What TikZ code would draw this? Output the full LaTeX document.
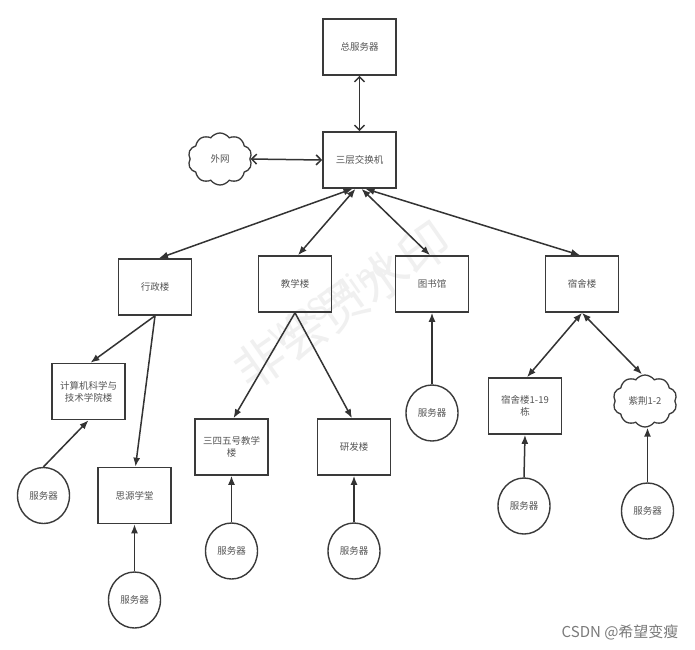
\documentclass[tikz,border=0pt]{standalone}
\usepackage{fontspec}
\newfontfamily\cjk{Noto Sans CJK SC}
\usetikzlibrary{shapes.geometric,shapes.symbols,arrows.meta}
\definecolor{boxc}{HTML}{3A3A3A}
\definecolor{linec}{HTML}{333333}
\definecolor{txt}{HTML}{555555}
\definecolor{wm}{HTML}{F0F0F0}
\definecolor{csdn}{HTML}{7A7A7A}
\begin{document}
\begin{tikzpicture}[x=1pt,y=-1pt,
  font=\cjk\fontsize{9.5}{12}\selectfont,
  box/.style={draw=boxc, line width=1.6pt, minimum width=73pt, minimum height=56pt, inner sep=0pt, text=txt, align=center},
  srv/.style={ellipse, draw=boxc, line width=1.4pt, minimum width=52pt, minimum height=56pt, inner sep=0pt, text=txt},
  cld/.style={cloud, cloud puffs=10, cloud puff arc=110, cloud ignores aspect, draw=boxc, line width=1.3pt, minimum width=64pt, minimum height=52pt, inner sep=0pt, text=txt},
  link/.style={draw=linec, line width=1.5pt},
  tipf/.style={-{Latex[length=9pt,width=7pt]}},
  tipff/.style={{Latex[length=9pt,width=7pt]}-{Latex[length=9pt,width=7pt]}},
  tipo/.style={{Straight Barb[length=5pt,width=10pt]}-{Straight Barb[length=5pt,width=10pt]}},
  wmark/.style={text=wm, rotate=35, inner sep=0pt}
]
\useasboundingbox[fill=white] (0,0) rectangle (695,649);

% watermark
\node[wmark, font=\cjk\fontsize{50}{50}\selectfont] (wmb) at (342,305) {非会员水印};
\node[wmark, font=\cjk\fontsize{30}{30}\selectfont] (wma) at (330,300) {WPS Mind};

% nodes
\node[box] (zfw) at (359.5,47) {总服务器};
\node[box] (sw) at (359.5,160) {三层交换机};
\node[cld] (ww) at (220,159) {外网};

\node[box] (xz) at (155,287) {行政楼};
\node[box] (jx) at (295,284) {教学楼};
\node[box] (ts) at (432,284) {图书馆};
\node[box] (ss) at (582,284) {宿舍楼};

\node[box] (jsj) at (88.5,391.5) {计算机科学与\\技术学院楼};
\node[box] (sy) at (134.5,495.5) {思源学堂};
\node[box] (s345) at (231.5,447) {三四五号教学\\楼};
\node[box] (yf) at (354,447) {研发楼};
\node[box] (ss19) at (525,406) {宿舍楼1-19\\栋};
\node[cld] (zj) at (645,401) {紫荆1-2};

\node[srv] (srv1) at (43.5,495.5) {服务器};
\node[srv] (srv2) at (134.5,600) {服务器};
\node[srv] (srv3) at (231.5,551) {服务器};
\node[srv] (srv4) at (354,551) {服务器};
\node[srv] (srv5) at (432,413) {服务器};
\node[srv] (srv6) at (524,506) {服务器};
\node[srv] (srv7) at (647.5,511) {服务器};

% connectors
\draw[link, tipo] (zfw.south) -- (sw.north);
\draw[link, tipo] (ww.east) -- (sw.west);

\draw[link, tipff] ([xshift=-7pt]sw.south) -- ([xshift=4pt]xz.north);
\draw[link, tipff] ([xshift=-4pt]sw.south) -- ([xshift=3pt]jx.north);
\draw[link, tipff] ([xshift=2pt]sw.south) -- ([xshift=-2pt]ts.north);
\draw[link, tipff] ([xshift=6pt]sw.south) -- ([xshift=-2pt]ss.north);

\draw[link, tipf] (xz.south) -- ([xshift=2pt]jsj.north);
\draw[link, tipf] (xz.south) -- ([xshift=1pt]sy.north);
\draw[link, tipf] (srv1.north) -- (jsj.south);
\draw[link, tipf] (srv2.north) -- (sy.south);

\draw[link, tipf] (jx.south) -- ([xshift=2pt]s345.north);
\draw[link, tipf] (jx.south) -- ([xshift=-2pt]yf.north);
\draw[link, tipf] (srv3.north) -- (s345.south);
\draw[link, tipf] (srv4.north) -- (yf.south);

\draw[link, tipf] (srv5.north) -- (ts.south);

\draw[link, tipff] (ss.south) -- ([xshift=2pt]ss19.north);
\draw[link, tipff] (ss.south) -- ([xshift=-3pt]zj.north);
\draw[link, tipf] (srv6.north) -- (ss19.south);
\draw[link, tipf] (srv7.north) -- ([xshift=2.5pt]zj.south);

% credit
\node[text=csdn, font=\cjk\fontsize{15}{17}\selectfont, anchor=east] (credit) at (682,632) {CSDN @希望变瘦};
\end{tikzpicture}
\end{document}
